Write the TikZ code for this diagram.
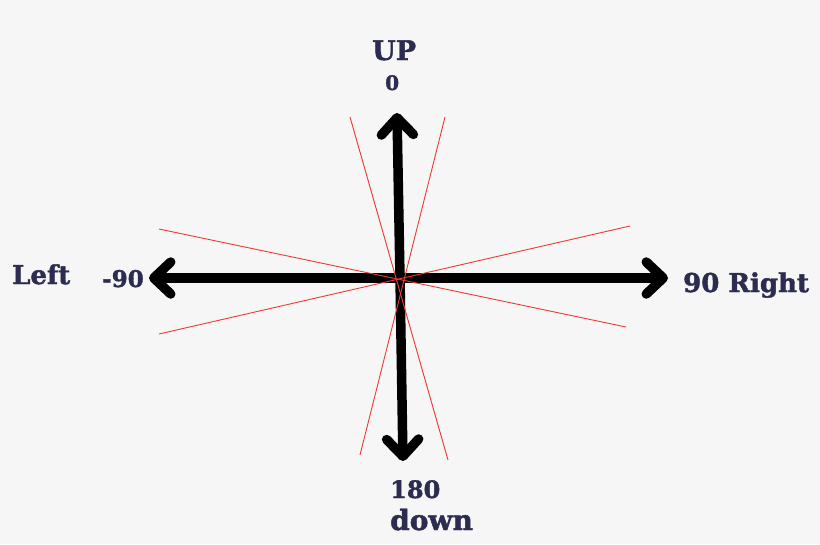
\documentclass[tikz,border=0pt]{standalone}
\usepackage{fontspec}
\setmainfont{DejaVu Serif}
\newfontfamily\heavy{DejaVu Serif}[BoldFeatures={FakeBold=1.6}]
\usetikzlibrary{arrows.meta}
\definecolor{bg}{HTML}{F6F6F6}
\definecolor{ink}{HTML}{2C2C50}
\definecolor{guide}{HTML}{EE3A34}
\tikzset{
  axis/.style={line width=9.5pt, line cap=round, -{Straight Barb[length=17pt,width=32pt,round]}},
  guideline/.style={guide, line width=0.9pt},
  lbl/.style={text=ink, inner sep=0pt, anchor=base west},
}
\begin{document}
\begin{tikzpicture}[x=1pt,y=-1pt]
\fill[bg] (0,0) rectangle (820,544);
\useasboundingbox (0,0) rectangle (820,544);
% centre and tips
\coordinate (c) at (400,278);
\coordinate (up) at (397,113);
\coordinate (dn) at (403,461);
\coordinate (lt) at (149,278);
\coordinate (rt) at (668,278);
% arrows
\draw[axis] (c) -- (up);
\draw[axis] (c) -- (dn);
\draw[axis] (c) -- (lt);
\draw[axis] (c) -- (rt);
% guide lines
\coordinate (g1a) at (350,117); \coordinate (g1b) at (448,460);
\coordinate (g2a) at (445,117); \coordinate (g2b) at (360,455);
\coordinate (g3a) at (159,229); \coordinate (g3b) at (626,327);
\coordinate (g4a) at (159,334); \coordinate (g4b) at (630,226);
\draw[guideline] (g1a) -- (g1b);
\draw[guideline] (g2a) -- (g2b);
\draw[guideline] (g3a) -- (g3b);
\draw[guideline] (g4a) -- (g4b);
% labels
\node[lbl, font=\heavy\bfseries\fontsize{27}{30}\selectfont] (tup) at (372,60) {UP};
\node[lbl, font=\heavy\bfseries\fontsize{20}{24}\selectfont] (tzero) at (385,90) {0};
\node[lbl, font=\heavy\bfseries\fontsize{26}{30}\selectfont] (tleft) at (12,284) {Left};
\node[lbl, font=\heavy\bfseries\fontsize{23}{28}\selectfont] (tm90) at (102,287) {-90};
\node[lbl, font=\heavy\bfseries\fontsize{26}{30}\selectfont] (tright) at (683,292) {90 Right};
\node[lbl, font=\heavy\bfseries\fontsize{24}{28}\selectfont] (t180) at (390,498) {180};
\node[lbl, font=\heavy\bfseries\fontsize{28}{32}\selectfont] (tdown) at (390,530) {down};
\end{tikzpicture}
\end{document}
